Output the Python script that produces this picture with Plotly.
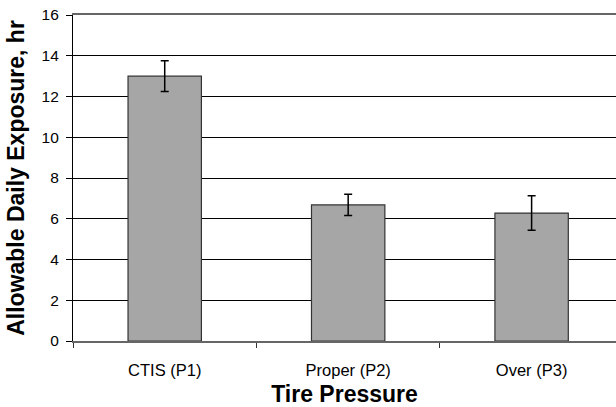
import plotly.graph_objects as go

categories = ["CTIS (P1)", "Proper (P2)", "Over (P3)"]
exposure = [13.0, 6.68, 6.28]
errors = [0.76, 0.52, 0.85]
y_ticks = [0, 2, 4, 6, 8, 10, 12, 14, 16]

fig = go.Figure()
fig.add_trace(go.Bar(
    x=categories, y=exposure,
    width=0.4,
    marker=dict(color="#a6a6a6", line=dict(color="#333333", width=1.2)),
    error_y=dict(type="data", array=errors, visible=True, color="black", thickness=1.5, width=4),
    hoverinfo="skip",
))

fig.update_layout(
    width=616, height=407,
    margin=dict(l=73, r=0, t=15, b=66),
    paper_bgcolor="white", plot_bgcolor="white",
    font=dict(family="Liberation Sans, Arial, sans-serif", color="black", size=12),
    showlegend=False,
    hovermode=False,
)
fig.update_xaxes(
    range=[-0.5, 2.46],
    showline=True, linecolor="#666666", linewidth=1.5, mirror=True,
    showgrid=False,
    ticks="outside", ticklen=5, tickcolor="#333333",
    tickson="boundaries",
    tickfont=dict(size=16.5),
    ticklabelstandoff=13,
    automargin=False,
    title=dict(text="<b>Tire Pressure</b>", font=dict(size=23), standoff=13),
)
fig.update_yaxes(
    range=[0, 16], tickvals=y_ticks,
    showline=True, linecolor="black", linewidth=1.2,
    showgrid=True, gridcolor="black", gridwidth=1,
    ticks="outside", ticklen=6, tickcolor="black",
    tickfont=dict(size=15.5),
    ticklabelstandoff=4,
    zeroline=False,
    automargin=False,
    title=dict(text="<b>Allowable Daily Exposure, hr</b>", font=dict(size=23), standoff=10),
)
fig.write_html(
    "out.html",
    config={"displayModeBar": False},
    post_script="document.body.style.margin='0';document.body.style.overflow='hidden';",
)
